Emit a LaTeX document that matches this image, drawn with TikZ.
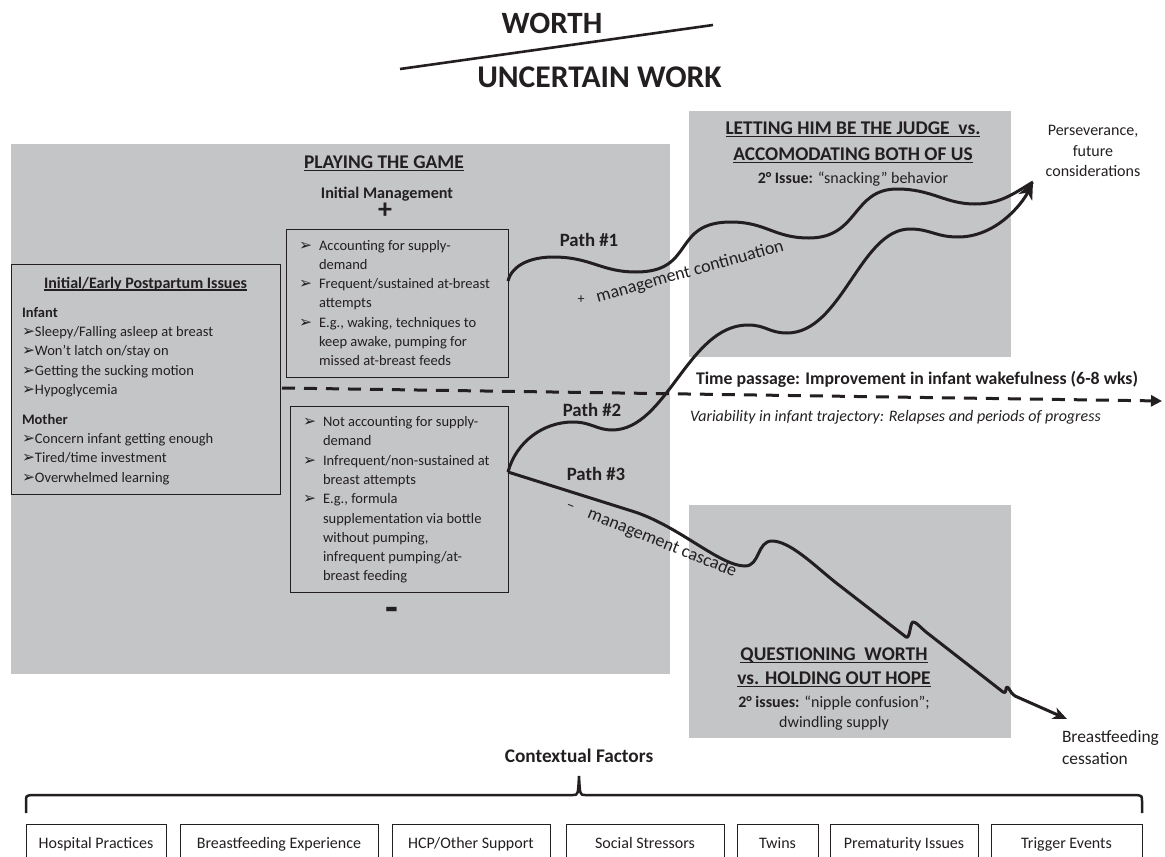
\documentclass[tikz,border=0pt]{standalone}
\usepackage{fontspec}
\setmainfont{Carlito}
\newfontfamily\symfont{DejaVu Sans}
\usetikzlibrary{arrows.meta}

\definecolor{panel}{RGB}{196,197,199}
\definecolor{inkc}{RGB}{35,31,32}

% arrowhead bullet and a tight underline
\newcommand{\arrowbullet}{{\symfont\fontsize{15.5}{15.5}\selectfont ➢}}
\newcommand{\itm}{\makebox[20pt][l]{\arrowbullet}}
\newcommand{\cont}{\hspace*{20pt}}
\newsavebox{\ulbox}
\newcommand{\undertext}[1]{\sbox{\ulbox}{#1}\rlap{\rule[-0.16em]{\wd\ulbox}{0.075em}}\usebox{\ulbox}}
\newcommand{\bodysize}{\fontsize{14.5}{19.3}\selectfont}
\newcommand{\titlesize}{\bfseries\fontsize{19.4}{22}\selectfont}

\begin{document}
\begin{tikzpicture}[x=1pt,y=-1pt,
  txt/.style={inner sep=0pt, outer sep=0pt, text=inkc},
  panelbox/.style={fill=panel, draw=none, inner sep=0pt, outer sep=0pt, anchor=north west},
  listbox/.style={draw=inkc, line width=1pt, inner sep=0pt, outer sep=0pt, anchor=north west},
  factor/.style={draw=inkc, line width=1pt, inner sep=0pt, outer sep=0pt, anchor=north west,
    minimum height=40pt, text height=12pt, text depth=4pt, text=inkc, font=\fontsize{16}{18}\selectfont},
  trail/.style={draw=inkc, line width=3pt, line join=round},
  bighead/.style={-{Stealth[length=17pt,width=15pt,inset=5pt]}},
  smallhead/.style={-{Stealth[length=14pt,width=12pt,inset=4pt]}},
  timeline/.style={draw=inkc, line width=3pt, dash pattern=on 13pt off 9pt,
    -{Triangle[length=11pt,width=11pt]}},
  pathlabel/.style={txt, anchor=base, font=\bfseries\fontsize{18.8}{20}\selectfont},
]
\useasboundingbox (0,0) rectangle (1165,857);

% ---------- heading ----------
\node[txt, anchor=base, font=\bfseries\fontsize{31}{31}\selectfont] (worth) at (552,33) {WORTH};
\node[txt, anchor=base, font=\bfseries\fontsize{31.6}{31.6}\selectfont] (uncertain) at (599.5,87) {UNCERTAIN WORK};
\coordinate (slashA) at (400,69);
\coordinate (slashB) at (713,25);
\draw[inkc, line width=2.6pt] (slashA) -- (slashB);

% ---------- grey panels ----------
\node[panelbox, minimum width=659pt, minimum height=530pt] (game) at (11,144) {};
\node[panelbox, minimum width=322pt, minimum height=246pt] (judge) at (689,111) {};
\node[panelbox, minimum width=322pt, minimum height=233pt] (hope) at (689,505) {};

% ---------- playing the game ----------
\node[txt, anchor=base, font=\titlesize] (gametitle) at (384,168) {\undertext{PLAYING THE GAME}};
\node[txt, anchor=base, font=\bfseries\fontsize{16.2}{18}\selectfont] (initmgmt) at (387,198) {Initial Management};
\node[txt, font=\bfseries\fontsize{28}{28}\selectfont] (plussign) at (385,211) {+};
\node[txt, anchor=base, font=\bfseries\fontsize{42}{42}\selectfont] (minussign) at (392,621) {-};

% early issues box
\node[listbox, minimum width=269pt, minimum height=230pt] (issues) at (11,264) {};
\node[txt, anchor=base, font=\bfseries\fontsize{16}{18}\selectfont] (issuestitle) at (145.5,288) {\undertext{Initial/Early Postpartum Issues}};
\node[txt, anchor=west, align=left, font=\bodysize] (issueslist) at (22,396) {%
\textbf{Infant}\\
\arrowbullet Sleepy/Falling asleep at breast\\
\arrowbullet Won’t latch on/stay on\\
\arrowbullet Getting the sucking motion\\
\arrowbullet Hypoglycemia\\[10.5pt]
\textbf{Mother}\\
\arrowbullet Concern infant getting enough\\
\arrowbullet Tired/time investment\\
\arrowbullet Overwhelmed learning};

% positive management box
\node[listbox, minimum width=222pt, minimum height=148pt] (plusbox) at (286,229) {};
\node[txt, anchor=west, align=left, font=\bodysize] (pluslist) at (299,303) {%
\itm Accounting for supply-\\
\cont demand\\
\itm Frequent/sustained at-breast\\
\cont attempts\\
\itm E.g., waking, techniques to\\
\cont keep awake, pumping for\\
\cont missed at-breast feeds};

% negative management box
\node[listbox, minimum width=218pt, minimum height=186pt] (minusbox) at (290,406) {};
\node[txt, anchor=west, align=left, font=\bodysize] (minuslist) at (303,500) {%
\itm Not accounting for supply-\\
\cont demand\\
\itm Infrequent/non-sustained at\\
\cont breast attempts\\
\itm E.g., formula\\
\cont supplementation via bottle\\
\cont without pumping,\\
\cont infrequent pumping/at-\\
\cont breast feeding};

% ---------- right-hand panels ----------
\node[txt, anchor=base, font=\titlesize] (judgeA) at (853,134) {\undertext{LETTING HIM BE THE JUDGE\ \ vs.}};
\node[txt, anchor=base, font=\titlesize] (judgeB) at (853,160) {\undertext{ACCOMODATING BOTH OF US}};
\node[txt, anchor=base, font=\fontsize{16}{18}\selectfont] (judgeC) at (853,183) {\textbf{2° Issue:} “snacking” behavior};

\node[txt, anchor=base, font=\titlesize] (hopeA) at (834,660) {\undertext{QUESTIONING\ \ WORTH}};
\node[txt, anchor=base, font=\titlesize] (hopeB) at (834,684) {\undertext{vs. HOLDING OUT HOPE}};
\node[txt, anchor=base, font=\fontsize{16}{18}\selectfont] (hopeC) at (834,707) {\textbf{2° issues:} “nipple confusion”;};
\node[txt, anchor=base, font=\fontsize{16}{18}\selectfont] (hopeD) at (834,727) {dwindling supply};

\node[txt, align=center, font=\fontsize{16}{20.5}\selectfont] (persev) at (1093,151) {Perseverance,\\future\\considerations};
\node[txt, anchor=west, align=left, font=\fontsize{17.4}{22}\selectfont] (cessation) at (1062,748) {Breastfeeding\\cessation};

% ---------- time line ----------
\coordinate (dashS) at (282,388);
\coordinate (dashE) at (1162,401);
\draw[timeline] (dashS) -- (dashE);
\node[txt, anchor=base west, font=\bfseries\fontsize{17.8}{19}\selectfont] (timetext) at (696,384) {Time passage: Improvement in infant wakefulness (6-8 wks)};
\node[txt, anchor=base west, font=\itshape\fontsize{16}{17}\selectfont] (vartext) at (690,421) {Variability in infant trajectory: Relapses and periods of progress};

% ---------- paths ----------
\coordinate (p1s) at (508,281);
\coordinate (p23s) at (508,472);
\coordinate (p12e) at (1033,182);
\coordinate (p3e) at (1067,719);

\draw[trail] (p1s) .. controls +(4,-16) and +(-22,0) .. (553,257)
  .. controls +(38,0) and +(-35,0) .. (636,272)
  .. controls +(60,0) and +(-60,0) .. (731,222)
  .. controls +(35,0) and +(-35,0) .. (809,238)
  .. controls +(50,0) and +(-45,0) .. (897,189)
  .. controls +(35,0) and +(-30,0) .. (975,204)
  .. controls +(25,0) and +(-20,12) .. (p12e);

\draw[trail, bighead] (p23s) .. controls +(8,-30) and +(-30,0) .. (573,422)
  .. controls +(18,0) and +(-15,0) .. (612,430)
  .. controls +(55,0) and +(-60,0) .. (748,325)
  .. controls +(18,0) and +(-18,0) .. (787,333)
  .. controls +(55,0) and +(-50,0) .. (910,229)
  .. controls +(20,0) and +(-22,0) .. (958,237)
  .. controls +(38,0) and +(-11,22) .. (p12e);

\draw[trail, smallhead] (p23s) -- (635,512)
  .. controls (680,527) and (720,566) .. (745,566)
  .. controls (760,566) and (757,541) .. (772,541)
  .. controls (790,541) and (815,566) .. (835,582)
  -- (906,637)
  .. controls (910,640) and (910,622) .. (913,622)
  .. controls (916,622) and (919,626) .. (926,632)
  -- (1003,692)
  .. controls (1007,695) and (1005,687) .. (1007,687)
  .. controls (1009,687) and (1010,693) .. (1015,696)
  -- (p3e);

\node[pathlabel] (path1) at (589,246) {Path \#1};
\node[pathlabel] (path2) at (592,416) {Path \#2};
\node[pathlabel] (path3) at (596,480) {Path \#3};

\node[txt, font=\fontsize{14}{14}\selectfont] (contplus) at (581,300) {+};
\node[txt, rotate=15.5, font=\fontsize{18}{18}\selectfont] (conttext) at (690,272) {management continuation};
\node[txt, rotate=-22, font=\fontsize{16}{16}\selectfont] (cascminus) at (570,508) {–};
\node[txt, rotate=-22, font=\fontsize{18}{18}\selectfont] (casctext) at (662,543) {management cascade};

% ---------- contextual factors ----------
\node[txt, anchor=base, font=\bfseries\fontsize{19.3}{20}\selectfont] (context) at (579,762) {Contextual Factors};
\coordinate (braceL) at (26,813);
\coordinate (braceR) at (1142,813);
\coordinate (braceTip) at (579,776);
\draw[inkc, line width=2.5pt] (braceL) -- (26,801) .. controls (26,796) .. (31,795) -- (573,795)
  .. controls (578,795) .. (braceTip) .. controls (580,795) .. (585,795) -- (1137,795)
  .. controls (1142,796) .. (1142,801) -- (braceR);

\node[factor, minimum width=140pt] (f1) at (26,824) {Hospital Practices};
\node[factor, minimum width=198pt] (f2) at (180,824) {Breastfeeding Experience};
\node[factor, minimum width=158pt] (f3) at (392,824) {HCP/Other Support};
\node[factor, minimum width=158pt] (f4) at (566,824) {Social Stressors};
\node[factor, minimum width=81pt] (f5) at (737,824) {Twins};
\node[factor, minimum width=148pt] (f6) at (830,824) {Prematurity Issues};
\node[factor, minimum width=151pt] (f7) at (991,824) {Trigger Events};
\end{tikzpicture}
\end{document}
